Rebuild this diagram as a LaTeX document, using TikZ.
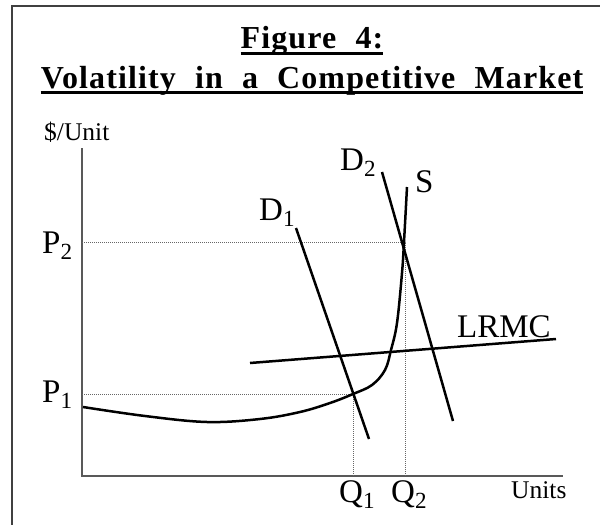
\documentclass[tikz,border=0pt]{standalone}
\usepackage{fontspec}
\setmainfont{Liberation Serif}
\newfontfamily\titlefont[LetterSpace=3.5, WordSpace=2.1]{Liberation Serif Bold}

\begin{document}
\begin{tikzpicture}[x=1pt, y=-1pt,
  curve/.style={line width=2.5pt},
  axis/.style={line width=1.3pt, black!65},
  guide/.style={line width=0.7pt, black!60, dash pattern=on 1pt off 1pt},
  lbl/.style={inner sep=0pt, anchor=base west, font=\fontsize{33}{38}\selectfont},
  unitlbl/.style={inner sep=0pt, anchor=base west, font=\fontsize{25.5}{30}\selectfont},
  heading/.style={inner sep=0pt, anchor=base, font=\titlefont\fontsize{32}{36}\selectfont},
  headrule/.style={line width=3pt}]
\useasboundingbox (0,0) rectangle (600,525);
% frame
\draw[line width=2pt, black!75] (11.5,525) -- (11.5,5.5) -- (600,5.5);
% title
\node[heading] (fig) at (312,48) {Figure 4:};
\node[heading] (vol) at (312,88) {Volatility in a Competitive Market};
\draw[headrule] ([yshift=-5pt]fig.base west) -- ([yshift=-5pt]fig.base east);
\draw[headrule] ([yshift=-4pt]vol.base west) -- ([yshift=-4pt]vol.base east);
% axes
\coordinate (ytop) at (82,148);
\coordinate (O) at (82,476);
\coordinate (xend) at (563,476);
\draw[axis] (ytop) -- (O) -- (xend);
\node[unitlbl] (yunit) at (44,140) {\$/Unit};
\node[unitlbl] (xunit) at (511,498) {Units};
% equilibria and guides
\coordinate (e1) at (353,394);
\coordinate (e2) at (405,242);
\draw[guide] (e1 -| O) -- (e1) -- (e1 |- O);
\draw[guide] (e2 -| O) -- (e2) -- (e2 |- O);
\node[lbl] (p1) at (42,402) {P\textsubscript{1}};
\node[lbl] (p2) at (42,253) {P\textsubscript{2}};
\node[lbl] (q1) at (339,502) {Q\textsubscript{1}};
\node[lbl] (q2) at (391,502) {Q\textsubscript{2}};
% demand curves
\coordinate (d1top) at (296,228);
\coordinate (d1bot) at (369,439);
\coordinate (d2top) at (382,172);
\coordinate (d2bot) at (453,421);
\draw[curve] (d1top) -- (d1bot);
\draw[curve] (d2top) -- (d2bot);
\node[lbl] (d1) at (259,220) {D\textsubscript{1}};
\node[lbl] (d2) at (340,170) {D\textsubscript{2}};
% LRMC
\coordinate (mcl) at (250,363);
\coordinate (mcr) at (556,339);
\draw[curve] (mcl) -- (mcr);
\node[lbl] (lrmc) at (457,337) {LRMC};
% supply
\draw[curve] plot[smooth, tension=0.6] coordinates {(83,407) (145,416) (207,422) (260,419) (300,412) (330,403) (353,394) (372,385) (385,370) (391,350) (397,323) (402,273) (404,242) (407,187)};
\node[lbl] (s) at (415,192) {S};
\end{tikzpicture}
\end{document}
